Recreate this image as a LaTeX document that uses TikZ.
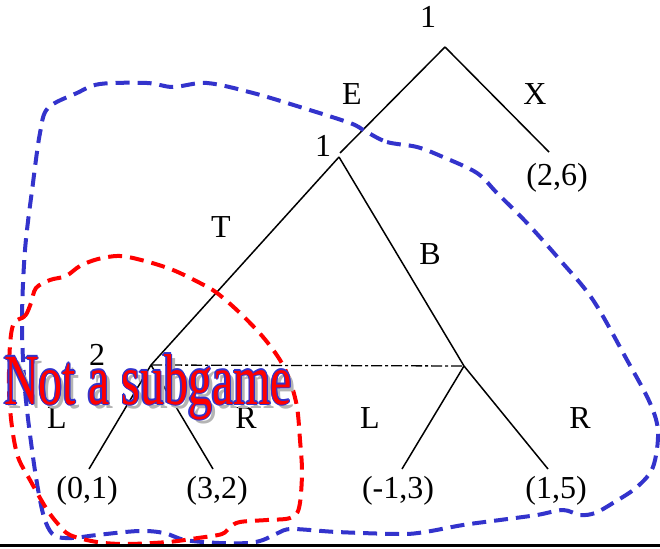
\documentclass[tikz,border=0pt]{standalone}
\usepackage{fontspec}
\setmainfont{Liberation Serif}
\definecolor{setblue}{RGB}{51,51,204}
\definecolor{setred}{RGB}{255,0,0}
\definecolor{shadowgray}{RGB}{180,180,180}
\newcommand{\nsgtext}{\scalebox{1}[1.5]{Not a subgame}}
\begin{document}
\begin{tikzpicture}[x=1pt,y=-1pt,
  lab/.style={anchor=base,inner sep=0pt,font=\fontsize{32}{38}\selectfont},
  branch/.style={line width=1.5pt,black},
  infoset/.style={line width=1.3pt,black,dash pattern=on 11pt off 3pt on 3pt off 3pt},
  bluset/.style={line width=4pt,setblue,dash pattern=on 14pt off 8pt},
  redset/.style={line width=4pt,setred,dash pattern=on 14pt off 8pt},
  wordart/.style={anchor=base,inner sep=0pt,font=\fontsize{48}{56}\selectfont}]
\useasboundingbox (0,0) rectangle (660,548);

% tree points
\coordinate (root) at (445,47);
\coordinate (eend) at (340,153);
\coordinate (xend) at (549,152);
\coordinate (n1) at (339,157);
\coordinate (n2) at (151,365);
\coordinate (n3) at (464,366);
\coordinate (l1) at (89,469);
\coordinate (l2) at (213,469);
\coordinate (l3) at (402,469);
\coordinate (l4) at (548,469);

\draw[branch] (root) -- (eend);
\draw[branch] (root) -- (xend);
\draw[branch] (n1) -- (n2);
\draw[branch] (n1) -- (n3);
\draw[branch] (n2) -- (l1);
\draw[branch] (n2) -- (l2);
\draw[branch] (n3) -- (l3);
\draw[branch] (n3) -- (l4);
\draw[infoset] (n2) -- (n3);

% labels
\node[lab] (t1) at (428,28) {1};
\node[lab] (tE) at (352,105) {E};
\node[lab] (tX) at (535,105) {X};
\node[lab] (t1b) at (323,157) {1};
\node[lab] (p26) at (557,185) {(2,6)};
\node[lab] (tT) at (221,237) {T};
\node[lab] (tB) at (430,264) {B};
\node[lab] (t2) at (97,365) {2};
\node[lab] (tL1) at (57,428) {L};
\node[lab] (tR1) at (246,428) {R};
\node[lab] (tL2) at (370,428) {L};
\node[lab] (tR2) at (580,428) {R};
\node[lab] (p01) at (87,498) {(0,1)};
\node[lab] (p32) at (217,498) {(3,2)};
\node[lab] (pm13) at (398,498) {(-1,3)};
\node[lab] (p15) at (556,498) {(1,5)};

% blue dashed set (subgame)
\draw[bluset] plot[smooth cycle,tension=0.55] coordinates {
 (365,131) (387,142) (417,147) (443,157) (477,173) (497,193) (527,223)
 (560,260) (593,300) (627,360) (650,403) (658,432) (653,467) (637,487)
 (613,503) (595,513) (580,515) (563,510) (537,515) (500,520) (463,525)
 (425,532) (400,534) (337,532) (292,529) (278,533) (263,540) (248,543)
 (219,543) (185,540) (164,533) (139,531) (97,535) (72,538) (55,536)
 (46,523) (40,500) (33,457) (25,390) (22,323) (25,250) (33,183) (40,133)
 (48,108) (77,93) (100,84) (147,83) (173,87) (207,83) (253,93) (300,107)
 (350,123)};

% red dashed set (not a subgame)
\draw[redset] plot[smooth cycle,tension=0.55] coordinates {
 (14,323) (25,316) (31,303) (36,288) (50,280) (66,276) (80,266) (98,259)
 (120,256) (145,261) (173,270) (200,283) (217,293) (240,313) (263,337)
 (280,360) (290,381) (297,407) (300,440) (302,473) (299,508) (290,518)
 (267,520) (240,522) (230,527) (222,534) (198,538) (168,542) (126,544)
 (97,542) (70,535) (58,524) (46,508) (30,480) (18,457) (12,427) (9,390)
 (10,345)};

% "Not a subgame" word art
\node[wordart,text=shadowgray] (nsgshadow) at (152,408) {\nsgtext};
\foreach \dx/\dy in {-1.3/0,1.3/0,0/-1.3,0/1.3,-0.9/-0.9,0.9/-0.9,-0.9/0.9,0.9/0.9}{
  \node[wordart,text=setblue] at (148+\dx,404+\dy) {\nsgtext};
}
\node[wordart,text=setred] (nsg) at (148,404) {\nsgtext};

% bottom rule
\coordinate (bl) at (0,545.5);
\coordinate (br) at (660,545.5);
\draw[line width=2.5pt,black] (bl) -- (br);
\end{tikzpicture}
\end{document}
